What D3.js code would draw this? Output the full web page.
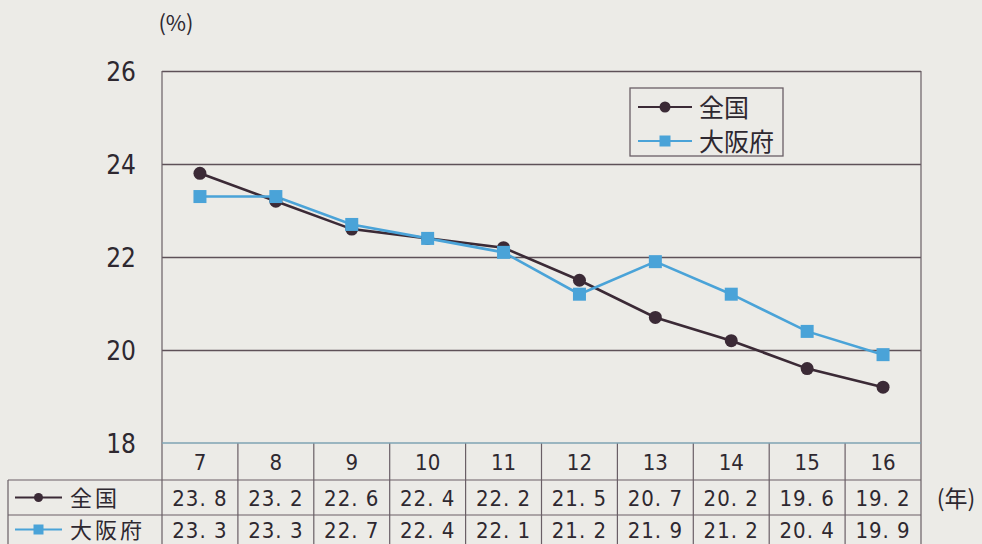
<!DOCTYPE html>
<html>
<head>
<meta charset="utf-8">
<title>全国・大阪府の推移</title>
<style type="text/css">
	html, body {
		margin: 0;
		padding: 0;
		background: #ecebe7;
	}
	svg {
		display: block;
		font-family: "Liberation Sans Narrow", "DejaVu Sans Condensed", "Noto Sans CJK JP", sans-serif;
	}
	.jp {
		font-family: "Noto Sans CJK JP", sans-serif;
	}
	.axis path, .axis line {
		display: none;
	}
	.grid line {
		stroke: #5e5158;
		stroke-width: 1.3;
	}
	.grid path {
		display: none;
	}
	.tbl {
		stroke: #6a5f66;
		stroke-width: 1.2;
	}
</style>
<script src="https://d3js.org/d3.v7.min.js"></script>
</head>
<body>
<script type="text/javascript">
	// 年（平成）
	var years = [7, 8, 9, 10, 11, 12, 13, 14, 15, 16];
	// 全国
	var zenkoku = [23.8, 23.2, 22.6, 22.4, 22.2, 21.5, 20.7, 20.2, 19.6, 19.2];
	// 大阪府
	var osaka = [23.3, 23.3, 22.7, 22.4, 22.1, 21.2, 21.9, 21.2, 20.4, 19.9];
	var yTicks = [18, 20, 22, 24, 26];
	var seriesNames = ["全国", "大阪府"];

	var dark = "#3b2a36",
		blue = "#4aa3d8";

	var svg = d3.select("body").append("svg")
		.attr("width", 982)
		.attr("height", 544);

	var pLeft = 162, pRight = 921, pTop = 71, pBottom = 443;
	var rowH = [443, 480, 515, 544];

	var x = d3.scaleBand().domain(years).range([pLeft, pRight]);
	var y = d3.scaleLinear().domain([18, 26]).range([pBottom, pTop]);
	var cx = function(d, i) { return x(years[i]) + x.bandwidth() / 2; };

	// gridlines
	svg.append("g")
		.attr("class", "grid")
		.attr("transform", "translate(" + pLeft + ",0)")
		.call(d3.axisLeft(y).tickValues([20, 22, 24, 26]).tickSize(-(pRight - pLeft)).tickFormat(""));

	// y tick labels
	svg.append("g")
		.attr("class", "axis")
		.attr("transform", "translate(" + (pLeft - 26) + ",0)")
		.call(d3.axisLeft(y).tickValues(yTicks).tickSize(0).tickPadding(0))
		.call(function(g) { g.select(".domain").remove(); })
		.selectAll("text")
			.attr("font-size", 26)
			.attr("fill", "#2e2830")
			.attr("dy", "0.35em")
			.style("font-family", "'Liberation Sans Narrow', 'DejaVu Sans Condensed', sans-serif");

	svg.append("text")
		.attr("class", "jp")
		.attr("x", 176)
		.attr("y", 31)
		.attr("text-anchor", "middle")
		.attr("font-size", 22)
		.attr("fill", "#2e2830")
		.text("(%)");

	// table: horizontal lines
	svg.append("line").attr("class", "tbl")
		.attr("x1", 8).attr("x2", pRight).attr("y1", rowH[1]).attr("y2", rowH[1]);
	svg.append("line").attr("class", "tbl")
		.attr("x1", 8).attr("x2", pRight).attr("y1", rowH[2]).attr("y2", rowH[2]);

	// verticals
	svg.selectAll(".vcol").data(years.slice(1))
		.enter().append("line")
		.attr("class", "tbl vcol")
		.attr("x1", function(d) { return x(d); })
		.attr("x2", function(d) { return x(d); })
		.attr("y1", rowH[0]).attr("y2", rowH[3]);
	svg.append("line").attr("class", "tbl")
		.attr("x1", pLeft).attr("x2", pLeft).attr("y1", pTop).attr("y2", rowH[3]);
	svg.append("line").attr("class", "tbl")
		.attr("x1", pRight).attr("x2", pRight).attr("y1", pTop).attr("y2", rowH[3]);
	svg.append("line").attr("class", "tbl")
		.attr("x1", 8).attr("x2", 8).attr("y1", rowH[1]).attr("y2", rowH[3]);
	svg.append("line").attr("class", "tbl")
		.attr("x1", pLeft).attr("x2", pRight).attr("y1", rowH[0]).attr("y2", rowH[0])
		.style("stroke", "#7fa3b3").style("stroke-width", 1.6);

	// header row
	svg.selectAll(".yr").data(years)
		.enter().append("text")
		.attr("class", "yr")
		.attr("x", cx)
		.attr("y", (rowH[0] + rowH[1]) / 2 + 1)
		.attr("dy", "0.35em")
		.attr("text-anchor", "middle")
		.attr("font-size", 22)
		.attr("fill", "#2e2830")
		.text(function(d) { return d; });

	var fmt = d3.format(".1f");
	[zenkoku, osaka].forEach(function(vals, r) {
		svg.selectAll(".v" + r).data(vals)
			.enter().append("text")
			.attr("class", "v" + r)
			.attr("x", cx)
			.attr("y", (rowH[r + 1] + rowH[r + 2]) / 2 + 1)
			.attr("dy", "0.35em")
			.attr("text-anchor", "middle")
			.attr("font-size", 22)
			.attr("letter-spacing", 1)
			.attr("fill", "#2e2830")
			.text(function(d) { return fmt(d).replace(".", ". "); });
	});

	svg.append("text")
		.attr("class", "jp")
		.attr("x", 956)
		.attr("y", (rowH[1] + rowH[2]) / 2 + 1)
		.attr("dy", "0.35em")
		.attr("text-anchor", "middle")
		.attr("font-size", 23)
		.attr("fill", "#2e2830")
		.text("(年)");

	// symbol helper
	function symbol(g, i, x0, x1, yy, size) {
		var c = i === 0 ? dark : blue;
		g.append("line")
			.attr("x1", x0).attr("x2", x1).attr("y1", yy).attr("y2", yy)
			.attr("stroke", c).attr("stroke-width", 2.2);
		var m = (x0 + x1) / 2;
		if (i === 0) {
			g.append("circle").attr("cx", m).attr("cy", yy).attr("r", size / 2).attr("fill", c);
		} else {
			g.append("rect").attr("x", m - size / 2).attr("y", yy - size / 2)
				.attr("width", size).attr("height", size).attr("fill", c);
		}
	}

	// row labels
	seriesNames.forEach(function(n, i) {
		var yy = (rowH[i + 1] + rowH[i + 2]) / 2;
		symbol(svg, i, 15, 62, yy, i === 0 ? 9 : 10);
		svg.append("text")
			.attr("class", "jp")
			.attr("x", 70)
			.attr("y", yy + 1)
			.attr("dy", "0.35em")
			.attr("font-size", 22)
			.attr("letter-spacing", 3)
			.attr("fill", "#2e2830")
			.text(n);
	});

	// lines
	var line = d3.line()
		.x(function(d, i) { return cx(d, i); })
		.y(function(d) { return y(d); });

	svg.append("path").datum(zenkoku)
		.attr("fill", "none").attr("stroke", dark).attr("stroke-width", 2.6)
		.attr("d", line);
	svg.append("path").datum(osaka)
		.attr("fill", "none").attr("stroke", blue).attr("stroke-width", 2.6)
		.attr("d", line);

	svg.selectAll(".dot").data(zenkoku)
		.enter().append("circle")
		.attr("class", "dot")
		.attr("cx", cx)
		.attr("cy", function(d) { return y(d); })
		.attr("r", 6.5)
		.attr("fill", dark);

	svg.selectAll(".sq").data(osaka)
		.enter().append("rect")
		.attr("class", "sq")
		.attr("x", function(d, i) { return cx(d, i) - 6.5; })
		.attr("y", function(d) { return y(d) - 6.5; })
		.attr("width", 13)
		.attr("height", 13)
		.attr("fill", blue);

	// legend
	var lg = svg.append("g");
	lg.append("rect")
		.attr("x", 630).attr("y", 88).attr("width", 153).attr("height", 68)
		.attr("fill", "#ecebe7").attr("stroke", "#6a5f66").attr("stroke-width", 1.3);
	seriesNames.forEach(function(n, i) {
		var yy = 107 + i * 34;
		symbol(lg, i, 638, 692, yy, 11);
		lg.append("text")
			.attr("class", "jp")
			.attr("x", 699)
			.attr("y", yy + 1)
			.attr("dy", "0.35em")
			.attr("font-size", 25)
			.attr("fill", "#2e2830")
			.text(n);
	});
</script>
</body>
</html>
